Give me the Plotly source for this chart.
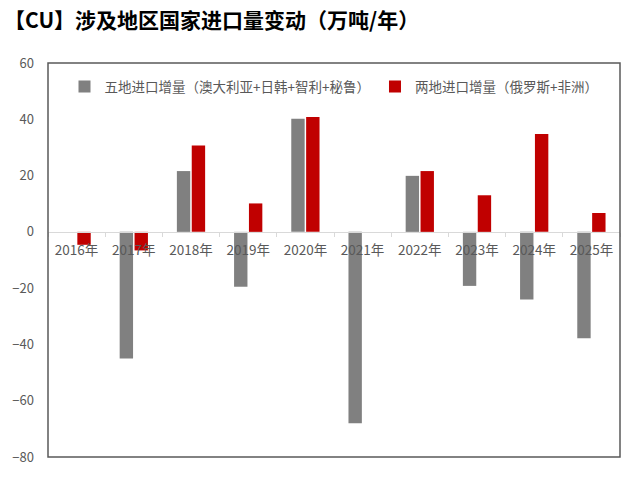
import plotly.graph_objects as go

years = ["2016年", "2017年", "2018年", "2019年", "2020年", "2021年", "2022年", "2023年", "2024年", "2025年"]
five_regions = [None, -45, 21.6, -19.5, 40.2, -68, 19.9, -19.2, -24, -37.8]
two_regions = [-4.6, -6.6, 30.7, 10.1, 40.8, None, 21.6, 13.0, 34.8, 6.7]

name_five = "五地进口增量（澳大利亚+日韩+智利+秘鲁）"
name_two = "两地进口增量（俄罗斯+非洲）"

font_cjk = "Noto Sans CJK SC, Microsoft YaHei, sans-serif"
label_color = "#595959"

fig = go.Figure()
fig.add_trace(go.Bar(x=years, y=five_regions, name=name_five, marker_color="#808080", marker_line_width=0))
fig.add_trace(go.Bar(x=years, y=two_regions, name=name_two, marker_color="#c00000", marker_line_width=0))

ymin, ymax = -80, 60
zero_pos = (0 - ymin) / (ymax - ymin)

W, H = 639, 478
fig.update_layout(
    width=W, height=H,
    margin=dict(l=47, r=19, t=63, b=14),
    paper_bgcolor="white", plot_bgcolor="white",
    barmode="group", bargap=0.48, bargroupgap=0.1,
    font=dict(family=font_cjk, size=13, color=label_color),
    title=dict(text="<b>【CU】涉及地区国家进口量变动（万吨/年）</b>",
               x=4 / W, xanchor="left", xref="container", y=1 - 21 / H, yanchor="middle",
               font=dict(size=21, color="#000000", family=font_cjk)),
    legend=dict(orientation="h", x=0.5, xanchor="center", y=0.94, yanchor="middle",
                bgcolor="rgba(0,0,0,0)", font=dict(size=13.5, color=label_color),
                itemwidth=30, traceorder="normal"),
    showlegend=True,
)
fig.update_yaxes(range=[ymin, ymax], dtick=20, tick0=0, showgrid=False, zeroline=False,
                 showline=False, ticks="", tickfont=dict(size=13, color=label_color),
                 ticklabelstandoff=13)
fig.update_xaxes(anchor="free", position=zero_pos, showline=True, linecolor="#d9d9d9", linewidth=1,
                 ticks="outside", tickson="boundaries", ticklen=4, tickcolor="#d9d9d9",
                 ticklabelstandoff=6,
                 showgrid=False, tickfont=dict(size=13.5, color=label_color))

fig.add_shape(type="rect", xref="paper", yref="paper", x0=0, x1=1, y0=0, y1=1,
              line=dict(color="#595959", width=1.5), layer="above")

fig.write_html("out.html", config={"displayModeBar": False},
               post_script="document.body.style.margin='0';")
